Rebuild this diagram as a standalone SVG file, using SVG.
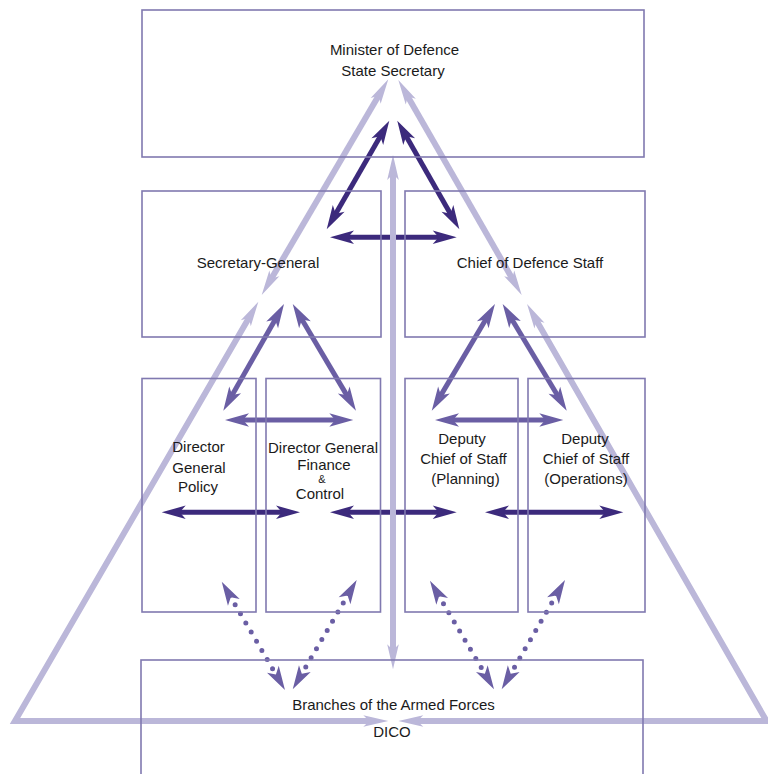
<svg xmlns="http://www.w3.org/2000/svg" width="768" height="774" viewBox="0 0 768 774">
<style>
.box{fill:none;stroke:#8079b0;stroke-width:1.6}
.t{font-family:"Liberation Sans",Arial,sans-serif;font-size:15px;fill:#1a1a1a;text-anchor:middle}
.light{fill:none;stroke:#bbb7d9;stroke-width:6;marker-start:url(#mL);marker-end:url(#mL)}
.dark{fill:none;stroke:#3c2a7c;stroke-width:5;marker-start:url(#mD);marker-end:url(#mD)}
.med{fill:none;stroke:#6a5ea4;stroke-width:5;marker-start:url(#mM);marker-end:url(#mM)}
.dot{fill:none;stroke:#6a5ea4;stroke-width:5;stroke-linecap:round;stroke-dasharray:0 10.6;marker-start:url(#mM);marker-end:url(#mM)}
</style>
<defs>
<marker id="mL" markerUnits="userSpaceOnUse" orient="auto-start-reverse" refX="9" refY="0" markerWidth="26" markerHeight="12" overflow="visible"><path d="M0,-5.8 L25,0 L0,5.8 L6,0 Z" fill="#bbb7d9"/></marker>
<marker id="mD" markerUnits="userSpaceOnUse" orient="auto-start-reverse" refX="8" refY="0" markerWidth="26" markerHeight="14" overflow="visible"><path d="M0,-6.8 L24,0 L0,6.8 L6,0 Z" fill="#3c2a7c"/></marker>
<marker id="mM" markerUnits="userSpaceOnUse" orient="auto-start-reverse" refX="8" refY="0" markerWidth="26" markerHeight="14" overflow="visible"><path d="M0,-6.8 L24,0 L0,6.8 L6,0 Z" fill="#6a5ea4"/></marker>
</defs>
<rect width="768" height="774" fill="#ffffff"/>
<g id="connectors">
<line class="dark" x1="381.3" y1="134.6" x2="334.7" y2="215.4"/>
<line class="dark" x1="405.2" y1="134.6" x2="451.4" y2="215.4"/>
<line class="dark" x1="346" y1="237.3" x2="440.7" y2="237.3"/>
<line class="med" x1="276.1" y1="317.9" x2="231.2" y2="396.8"/>
<line class="med" x1="300.9" y1="317.8" x2="347.8" y2="396.9"/>
<line class="med" x1="241" y1="420" x2="337.3" y2="420"/>
<line class="med" x1="486.8" y1="317.8" x2="439.9" y2="396.9"/>
<line class="med" x1="510.9" y1="317.7" x2="558.5" y2="397"/>
<line class="med" x1="451" y1="420" x2="547.3" y2="420"/>
<line class="dark" x1="177.7" y1="512.3" x2="284" y2="512.3"/>
<line class="dark" x1="346" y1="512.3" x2="440.7" y2="512.3"/>
<line class="dark" x1="501" y1="512.3" x2="607.3" y2="512.3"/>
<line class="dot" x1="229.8" y1="595.5" x2="276.9" y2="676.2"/>
<line class="dot" x1="348.6" y1="593.8" x2="300.8" y2="675.5"/>
<line class="dot" x1="438.1" y1="594.5" x2="485.9" y2="675.5"/>
<line class="dot" x1="557" y1="593.8" x2="509.7" y2="675.5"/>
<line class="light" x1="380.2" y1="93.1" x2="269.8" y2="281.2"/>
<line class="light" x1="406.3" y1="93.9" x2="513.7" y2="281.1"/>
<polyline class="light" points="250.3,315.5 15,721 372.3,721"/>
<polyline class="light" points="535,317.9 766.5,721 414.3,721"/>
<line class="light" x1="393" y1="171" x2="393" y2="653.3"/>
</g>
<g id="minister">
<rect class="box" x="142" y="10" width="502" height="147"/>
<text class="t" x="394.5" y="54.5">Minister of Defence</text>
<text class="t" x="393" y="75.5">State Secretary</text>
</g>
<g id="secretary-general">
<rect class="box" x="142" y="191" width="239" height="146"/>
<text class="t" x="258" y="267.5">Secretary-General</text>
</g>
<g id="chief-of-defence-staff">
<rect class="box" x="405" y="191" width="240" height="146"/>
<text class="t" x="530" y="267.5">Chief of Defence Staff</text>
</g>
<g id="dg-policy">
<rect class="box" x="142" y="378.5" width="114" height="233.5"/>
<text class="t" x="198.5" y="452">Director</text>
<text class="t" x="199" y="473">General</text>
<text class="t" x="198" y="492">Policy</text>
</g>
<g id="dg-finance">
<rect class="box" x="266" y="378.5" width="114.5" height="233.5"/>
<text class="t" x="323" y="452.5">Director General</text>
<text class="t" x="324" y="469.5">Finance</text>
<text class="t" x="322" y="482.5" style="font-size:11px">&amp;</text>
<text class="t" x="320" y="498.5">Control</text>
</g>
<g id="dcs-planning">
<rect class="box" x="405" y="378.5" width="113" height="233.5"/>
<text class="t" x="462" y="444">Deputy</text>
<text class="t" x="463.5" y="464">Chief of Staff</text>
<text class="t" x="465.5" y="484">(Planning)</text>
</g>
<g id="dcs-operations">
<rect class="box" x="528" y="378.5" width="117" height="233.5"/>
<text class="t" x="585" y="444">Deputy</text>
<text class="t" x="586" y="464">Chief of Staff</text>
<text class="t" x="586" y="484">(Operations)</text>
</g>
<g id="branches">
<rect class="box" x="141" y="660" width="502" height="130"/>
<text class="t" x="393.5" y="710">Branches of the Armed Forces</text>
<text class="t" x="392" y="737">DICO</text>
</g>
</svg>
